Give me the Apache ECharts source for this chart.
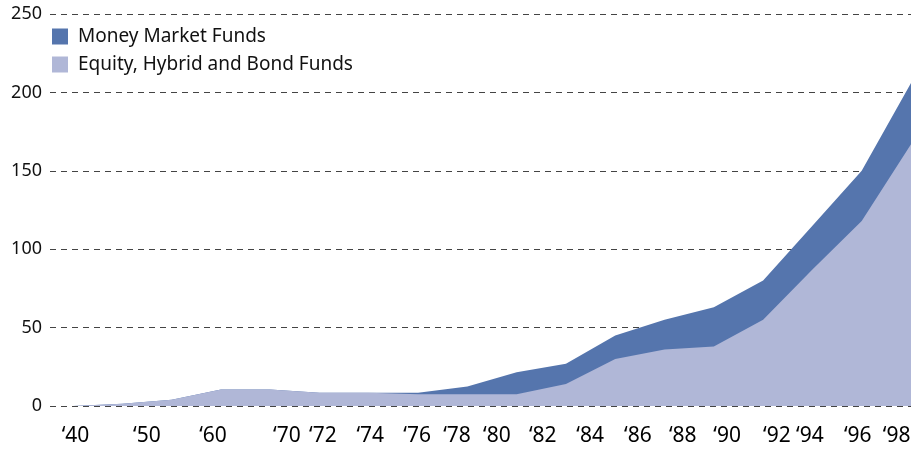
<!DOCTYPE html>
<html>
<head>
<meta charset="utf-8">
<script src="https://cdn.jsdelivr.net/npm/echarts@6/dist/echarts.min.js"></script>
<style>
  html, body { margin: 0; padding: 0; background: #fff; }
  #chart { width: 923px; height: 452px; }
</style>
</head>
<body>
<div id="chart"></div>
<script>
// years where the data points sit (evenly spaced in the original)
const years = ['‘40', '‘50', '‘60', '‘70', '‘72', '‘74', '‘76', '‘78', '‘80', '‘82', '‘84', '‘86', '‘88', '‘90', '‘92', '‘94', '‘96', '‘98']
const equityFunds = [0, 1.5, 4, 10.5, 10.5, 8.5, 8.5, 7.5, 7.5, 7.5, 14, 30, 36, 38, 55, 87, 118, 167]
const moneyFunds = [0, 0, 0, 0, 0, 0, 0, 1, 5, 14, 13, 15, 19, 25, 25, 28, 32, 39]
const yTicks = [0, 50, 100, 150, 200, 250]

// the printed year labels are not under the points, they sit where the designer put them
const labelSpots = [0.05, 1.5, 2.84, 4.34, 5.07, 6.03, 6.98, 7.79, 8.6, 9.53, 10.49, 11.46, 12.37, 13.27, 14.28, 14.95, 15.92, 16.71]

const chart = echarts.init(document.getElementById('chart'))
const font = '"Noto Sans", sans-serif'

// point index as x, so the plot can start a bit right of the gridlines.
// stack by hand: money area goes up to the total, equity area is drawn over it
const equityData = equityFunds.map((v, i) => [i, v])
const totalData = moneyFunds.map((v, i) => [i, v + equityFunds[i]])

chart.setOption({
  animation: false,
  grid: { left: 50, right: 12, top: 14, bottom: 46 },
  legend: {
    orient: 'vertical',
    left: 47,
    top: 22,
    itemWidth: 16,
    itemHeight: 16,
    itemGap: 9,
    icon: 'rect',
    data: ['Money Market Funds', 'Equity, Hybrid and Bond Funds'],
    textStyle: { fontFamily: font, fontSize: 19, lineHeight: 16, color: '#111', padding: [0, 0, 0, 5] }
  },
  xAxis: {
    type: 'value',
    min: -0.467,
    max: years.length - 1,
    axisLine: { show: false },
    axisTick: { show: false },
    splitLine: { show: false },
    axisLabel: {
      customValues: labelSpots,
      margin: 20,
      fontFamily: font,
      fontSize: 21,
      color: '#000',
      formatter: v => {
        const i = labelSpots.findIndex(s => Math.abs(s - v) < 1e-6)
        return i >= 0 ? years[i] : ''
      }
    }
  },
  yAxis: {
    type: 'value',
    min: yTicks[0],
    max: yTicks[yTicks.length - 1],
    interval: 50,
    axisLine: { show: false },
    axisTick: { show: false },
    axisLabel: { margin: 8, fontFamily: font, fontSize: 18, color: '#111' },
    splitLine: { lineStyle: { type: [6, 5], color: '#444', width: 1 } }
  },
  series: [
    {
      name: 'Money Market Funds',
      type: 'line',
      data: totalData,
      symbol: 'none',
      itemStyle: { color: '#5575ad' },
      lineStyle: { width: 0 },
      areaStyle: { color: '#5575ad', opacity: 1 },
      z: 2
    },
    {
      name: 'Equity, Hybrid and Bond Funds',
      type: 'line',
      data: equityData,
      symbol: 'none',
      itemStyle: { color: '#b0b7d7' },
      lineStyle: { width: 0 },
      areaStyle: { color: '#b0b7d7', opacity: 1 },
      z: 3
    }
  ]
})
</script>
</body>
</html>
